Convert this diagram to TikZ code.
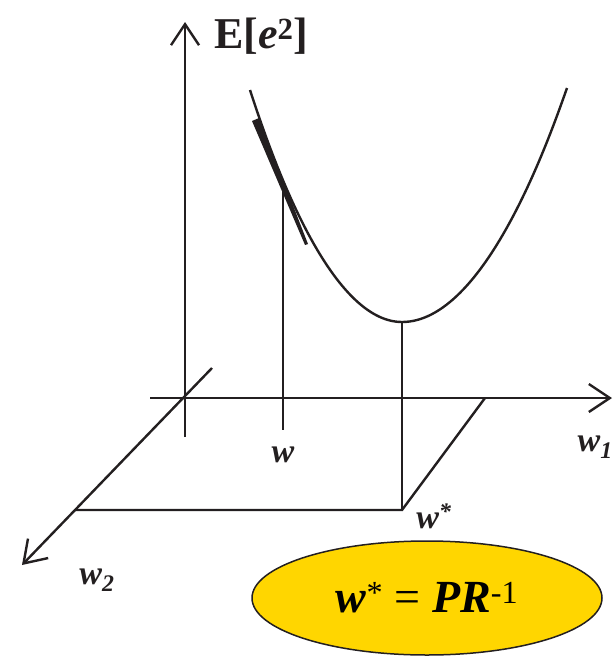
\documentclass[tikz,border=0pt]{standalone}
\usepackage{fontspec}
\setmainfont{Liberation Serif}
\usetikzlibrary{arrows.meta, positioning, shapes.geometric}
\definecolor{ovalgelb}{HTML}{FFD600}
\definecolor{strich}{HTML}{231F20}
\tikzset{
  achse/.style={line width=2.4pt, -{Straight Barb[length=21pt,width=28pt,line width=2.4pt]}},
  linie/.style={line width=2.4pt},
  wlabel/.style={font=\fontsize{34}{34}\selectfont\bfseries\itshape, inner sep=0pt}
}

\begin{document}
\begin{tikzpicture}[x=1pt, y=-1pt, strich]
      \useasboundingbox (0,0) rectangle (614,659);
      % Axes
      \coordinate (ursprung) at (185,398);
      \coordinate (eunten) at (185,437);
      \coordinate (eoben) at (185,22);
      \coordinate (w1links) at (150,398);
      \coordinate (w1rechts) at (612,398);
      \coordinate (w2oben) at (212,368);
      \coordinate (w2unten) at (22,565);
      \draw[achse] (eunten) -- (eoben);
      \draw[achse] (w1links) -- (w1rechts);
      \draw[achse] (w2oben) -- (w2unten);
      \node[font=\fontsize{44}{44}\selectfont\bfseries, anchor=west, inner sep=0pt]
        (elabel) at (214,36) {E[\textit{e}\textsuperscript{2}]};
      \node[wlabel, anchor=east] (w1label) at (613,447) {w\textsubscript{1}};
      \node[wlabel] (w2label) at (97,580) {w\textsubscript{2}};
      % Error surface
      \draw[line width=2.4pt] (250,90) parabola bend (402,322) (567,88);
      % Ground plane
      \coordinate (minimum) at (402,322);
      \coordinate (wstern) at (402,510);
      \coordinate (ecke) at (75,510);
      \coordinate (w1ecke) at (485,398);
      \draw[linie] (minimum) -- (wstern);
      \draw[linie] (ecke) -- (wstern) -- (w1ecke);
      % Start point and tangent
      \coordinate (kurvew) at (283,180);
      \coordinate (bodenw) at (283,430);
      \draw[linie] (kurvew) -- (bodenw);
      \fill (252,121) -- (259,118) -- (308,244) -- (305,245) -- cycle;
      \node[wlabel] (wlabel) at (283,455) {w};
      \node[wlabel] (wsternlabel) at (434,516) {w\textsuperscript{*}};
      % Solution
      \node[ellipse, draw, line width=1.5pt, fill=ovalgelb, minimum width=350pt,
        minimum height=114pt, inner sep=0pt, text=black,
        font=\fontsize{46}{46}\selectfont] (loesung) at (427,598)
        {\textbf{\textit{w}}\textsuperscript{*} = \textbf{\textit{PR}}\textsuperscript{-1}};
    \end{tikzpicture}
\end{document}
